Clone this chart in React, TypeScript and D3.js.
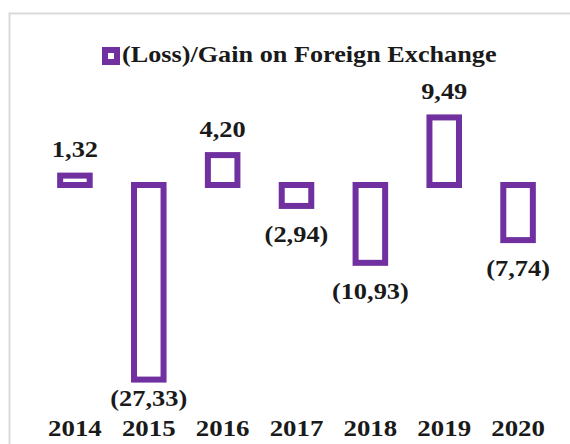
import React from "react";
import * as d3 from "d3";

const years = ["2014", "2015", "2016", "2017", "2018", "2019", "2020"];
const values = [1.32, -27.33, 4.2, -2.94, -10.93, 9.49, -7.74];
const labels = ["1,32", "(27,33)", "4,20", "(2,94)", "(10,93)", "9,49", "(7,74)"];
const seriesName = "(Loss)/Gain on Foreign Exchange";

const W = 570;
const H = 444;
const PURPLE = "#7030a0";
const FONT = "'Liberation Serif', 'Times New Roman', serif";
const TEXT = "#1a1a1a";

function SText({ x, y, size, sx, anchor, children }: { x: number; y: number; size: number; sx: number; anchor: string; children: React.ReactNode }) {
  return (
    <g transform={`translate(${x},${y}) scale(${sx},1)`}>
      <text x={0} y={0} textAnchor={anchor as any} fontFamily={FONT} fontWeight="bold" fontSize={size} fill={TEXT}>
        {children}
      </text>
    </g>
  );
}

export default function App() {
  const x = d3.scaleBand<string>().domain(years).range([38, 555]).paddingInner(0.6).paddingOuter(0.3);
  const y = d3.scaleLinear().domain([-30, 10]).range([398.6, 113.8]);
  const bw = x.bandwidth();
  const y0 = y(0);

  return (
    <svg width={W} height={H} style={{ position: "fixed", left: 0, top: 0, background: "#fff" }}>
      <rect x={0} y={0} width={W} height={H} fill="#fff" />
      <rect x={9.5} y={13.5} width={700} height={600} fill="none" stroke="#d9d9d9" strokeWidth={2} />
      {/* legend */}
      <rect x={105} y={50} width={12} height={12} fill="#fff" stroke={PURPLE} strokeWidth={6} />
      <SText x={122} y={62} size={23} sx={1.14} anchor="start">
        {seriesName}
      </SText>
      {values.map((v, i) => {
        const xx = x(years[i])!;
        const top = Math.min(y(v), y0);
        const h = Math.abs(y(v) - y0);
        const cx = xx + bw / 2;
        const ly = v >= 0 ? y(v) - 18.5 : Math.min(y(v) + 36, 406);
        return (
          <g key={years[i]}>
            <rect x={xx} y={top} width={bw} height={h} fill="#fff" stroke={PURPLE} strokeWidth={6} />
            <SText x={cx} y={ly} size={24} sx={1.1} anchor="middle">
              {labels[i]}
            </SText>
          </g>
        );
      })}
      {years.map((yr) => (
        <SText key={yr} x={x(yr)! + bw / 2} y={436} size={24} sx={1.12} anchor="middle">
          {yr}
        </SText>
      ))}
    </svg>
  );
}
